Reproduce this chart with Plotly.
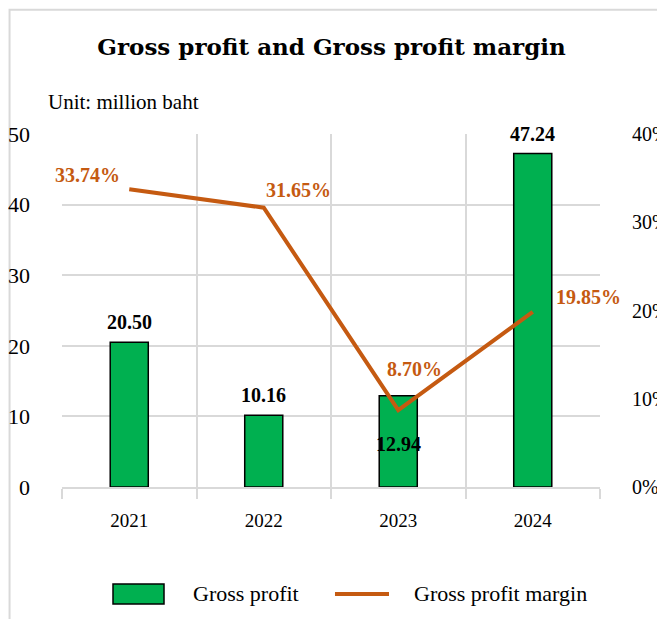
import plotly.graph_objects as go

years = ["2021", "2022", "2023", "2024"]
gross_profit = [20.50, 10.16, 12.94, 47.24]
gp_margin = [33.74, 31.65, 8.70, 19.85]
gp_labels = ["20.50", "10.16", "12.94", "47.24"]
margin_labels = ["33.74%", "31.65%", "8.70%", "19.85%"]
left_ticks = [0, 10, 20, 30, 40, 50]
right_ticks = [0, 10, 20, 30, 40]
right_ticktext = ["0%", "10%", "20%", "30%", "40%"]

GREEN = "#00B050"
ORANGE = "#C55A11"
GRID = "#D9D9D9"
SERIF = "Liberation Serif, Times New Roman, serif"
TITLE_FONT = "DejaVu Serif, serif"

fig = go.Figure()
fig.add_trace(go.Bar(
    x=years, y=gross_profit, name="Gross profit",
    marker=dict(color=GREEN, line=dict(color="black", width=1.5)),
    width=0.283, showlegend=False, yaxis="y",
))
fig.add_trace(go.Scatter(
    x=years, y=gp_margin, name="Gross profit margin", mode="lines",
    line=dict(color=ORANGE, width=4), showlegend=False, yaxis="y2",
))

annotations = []
# bar labels
bar_shift = [20, 20, -48, 19]
for i, (v, t, s) in enumerate(zip(gross_profit, gp_labels, bar_shift)):
    annotations.append(dict(x=i, y=v, xref="x", yref="y", text=f"<b>{t}</b>",
                            showarrow=False, yshift=s,
                            font=dict(family=SERIF, size=20, color="black")))
# line labels
m_xshift = [-42, 35, 16, 56]
m_yshift = [14, 18, 41, 15]
for i, (v, t, dx, dy) in enumerate(zip(gp_margin, margin_labels, m_xshift, m_yshift)):
    annotations.append(dict(x=i, y=v, xref="x", yref="y2", text=f"<b>{t}</b>",
                            showarrow=False, xshift=dx, yshift=dy,
                            font=dict(family=SERIF, size=20, color=ORANGE)))
# unit text
annotations.append(dict(x=-0.029, y=1.091, xref="paper", yref="paper", xanchor="left",
                        yanchor="middle", text="Unit: million baht", showarrow=False,
                        font=dict(family=SERIF, size=21, color="black")))
# legend text
annotations.append(dict(x=0.239, y=-0.303, xref="paper", yref="paper", xanchor="left",
                        yanchor="middle", text="Gross profit", showarrow=False,
                        font=dict(family=SERIF, size=22, color="black")))
annotations.append(dict(x=0.65, y=-0.303, xref="paper", yref="paper", xanchor="left",
                        yanchor="middle", text="Gross profit margin", showarrow=False,
                        font=dict(family=SERIF, size=22, color="black")))

shapes = [
    # outer chart border
    dict(type="rect", xref="paper", yref="paper", x0=-0.0975, x1=1.3, y0=-0.5, y1=1.352,
         line=dict(color=GRID, width=2), fillcolor="rgba(0,0,0,0)", layer="below"),
    # legend swatches
    dict(type="rect", xref="paper", yref="paper", x0=0.0948, x1=0.1896, y0=-0.3314, y1=-0.2748,
         line=dict(color="black", width=1.5), fillcolor=GREEN),
    dict(type="line", xref="paper", yref="paper", x0=0.5074, x1=0.6078, y0=-0.303, y1=-0.303,
         line=dict(color=ORANGE, width=4)),
]

fig.update_layout(
    width=665, height=619,
    margin=dict(l=54, r=73, t=126, b=140),
    paper_bgcolor="white", plot_bgcolor="white",
    title=dict(text="<b>Gross profit and Gross profit margin</b>", x=0.4865, xanchor="center",
               y=0.937, yanchor="middle",
               font=dict(family=TITLE_FONT, size=23, color="black")),
    xaxis=dict(type="category", tickson="boundaries", ticks="outside", ticklen=10,
               tickcolor=GRID, tickwidth=2, showgrid=True, gridcolor=GRID, gridwidth=2,
               showline=True, linecolor=GRID, linewidth=2, automargin=False,
               tickfont=dict(family=SERIF, size=19, color="black"),
               ticklabelstandoff=15, range=[-0.5, 3.5]),
    yaxis=dict(range=[0, 50], tickvals=left_ticks, showgrid=True, gridcolor=GRID, gridwidth=2,
               zeroline=False, showline=False, ticks="", automargin=False,
               tickfont=dict(family=SERIF, size=22, color="black"),
               ticklabelstandoff=31),
    yaxis2=dict(range=[0, 40], overlaying="y", side="right", tickvals=right_ticks,
                ticktext=right_ticktext, showgrid=False, zeroline=False, showline=False,
                ticks="outside", ticklen=27, tickcolor="rgba(0,0,0,0)", automargin=False,
                tickfont=dict(family=SERIF, size=20, color="black")),
    annotations=annotations, shapes=shapes,
    showlegend=False,
)

fig.write_html("out.html")
